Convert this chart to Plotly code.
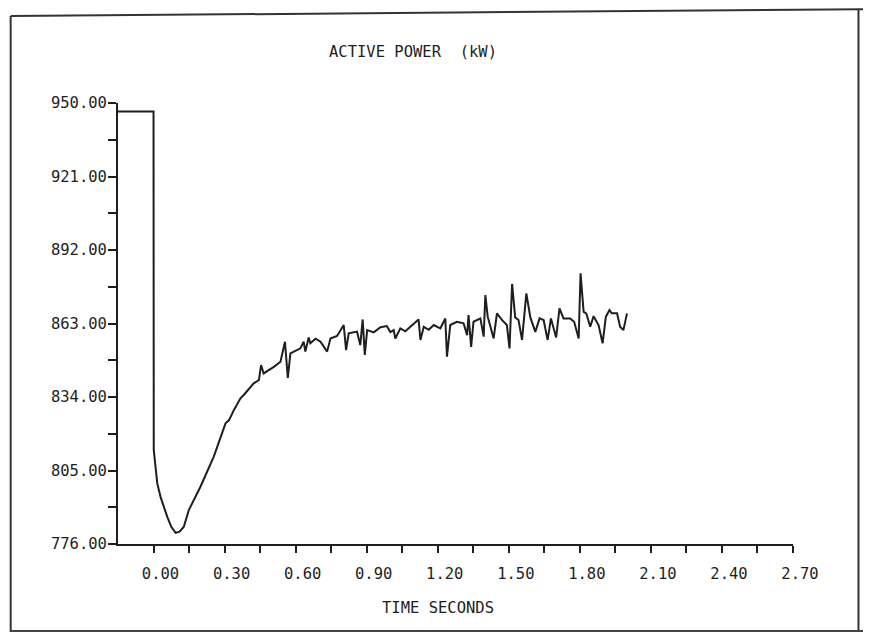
import plotly.graph_objects as go

# ---- data ----
time_s = [-0.15, 0.0, 0.001, 0.008, 0.016, 0.030, 0.044, 0.058, 0.075, 0.093, 0.110, 0.128,
          0.149, 0.172, 0.198, 0.254, 0.304,
          0.319, 0.339, 0.367, 0.381, 0.423, 0.445, 0.454, 0.465, 0.508, 0.536, 0.555, 0.567,
          0.578, 0.620, 0.634, 0.641, 0.655, 0.662, 0.684, 0.705, 0.733, 0.747, 0.775, 0.803,
          0.813, 0.824, 0.859, 0.873, 0.883, 0.892, 0.902, 0.930, 0.958, 0.985, 1.000, 1.014,
          1.021, 1.042, 1.063, 1.084, 1.119, 1.127, 1.141, 1.162, 1.183, 1.211, 1.232, 1.239,
          1.253, 1.281, 1.309, 1.324, 1.330, 1.341, 1.351, 1.380, 1.394, 1.401, 1.411, 1.436,
          1.450, 1.471, 1.492, 1.503, 1.514, 1.527, 1.541, 1.556, 1.574, 1.591, 1.612, 1.630,
          1.647, 1.664, 1.678, 1.700, 1.714, 1.731, 1.759, 1.776, 1.795, 1.803, 1.816, 1.827,
          1.844, 1.858, 1.879, 1.896, 1.910, 1.925, 1.935, 1.957, 1.970, 1.984, 1.999]
power_kw = [946.6, 946.6, 813.0, 805.2, 799.8, 794.5, 790.2, 786.7, 782.8, 780.4, 780.9, 782.8,
            789.4, 793.6, 798.6, 810.4, 823.6,
            824.9, 828.8, 833.5, 834.8, 839.4, 840.7, 846.6, 843.3, 845.9, 847.9, 855.8, 841.5,
            851.2, 853.2, 855.8, 851.9, 857.5, 855.2, 857.0, 855.8, 851.9, 857.1, 858.1, 862.4,
            852.5, 859.1, 859.8, 854.5, 864.6, 850.6, 860.4, 859.5, 861.5, 862.0, 859.6, 860.4,
            857.1, 861.1, 859.9, 861.7, 864.6, 856.5, 861.7, 860.5, 862.4, 861.1, 865.0, 849.9,
            862.4, 863.7, 863.1, 858.4, 866.3, 853.8, 863.7, 865.0, 857.8, 874.2, 865.7, 857.1,
            867.0, 864.4, 862.4, 853.2, 878.6, 865.4, 864.4, 856.5, 874.9, 865.4, 859.7, 865.0,
            864.4, 856.5, 865.0, 857.5, 869.0, 865.0, 865.0, 863.7, 857.1, 882.8, 867.6, 867.0,
            861.7, 865.9, 862.4, 855.2, 865.7, 868.3, 867.0, 867.0, 861.7, 860.4, 867.0]

x_tick_vals = [0.0, 0.15, 0.30, 0.45, 0.60, 0.75, 0.90, 1.05, 1.20, 1.35, 1.50, 1.65,
               1.80, 1.95, 2.10, 2.25, 2.40, 2.55, 2.70]
x_tick_text = ["0.00", "", "0.30", "", "0.60", "", "0.90", "", "1.20", "", "1.50", "",
               "1.80", "", "2.10", "", "2.40", "", "2.70"]
y_tick_vals = [776, 790.5, 805, 819.5, 834, 848.5, 863, 877.5, 892, 906.5, 921, 935.5, 950]
y_tick_text = ["776.00", "", "805.00", "", "834.00", "", "863.00", "", "892.00", "",
               "921.00", "", "950.00"]

title_text = "ACTIVE POWER\u00a0\u00a0(kW)"
x_title = "TIME SECONDS"

FONT = "DejaVu Sans Mono"
INK = "#1e1e1e"

fig = go.Figure()
fig.add_trace(go.Scatter(x=time_s, y=power_kw, mode="lines",
                         line=dict(color=INK, width=2), hoverinfo="skip",
                         showlegend=False))

axis_common = dict(showgrid=False, zeroline=False, showline=True, linecolor=INK,
                   linewidth=2, ticks="outside", tickcolor=INK, tickwidth=2,
                   mirror=False)

fig.update_xaxes(range=[-0.15, 2.70], tickmode="array", tickvals=x_tick_vals,
                 ticktext=x_tick_text, ticklen=7, ticklabelshift=7,
                 ticklabelstandoff=7, tickfont=dict(family=FONT, size=15.5, color=INK),
                 **axis_common)
fig.update_yaxes(range=[776, 950], tickmode="array", tickvals=y_tick_vals,
                 ticktext=y_tick_text, ticklen=8, ticklabelstandoff=-2,
                 tickfont=dict(family=FONT, size=15.5, color=INK), **axis_common)

fig.add_annotation(text=title_text, xref="paper", yref="paper", x=0.437, y=1.116,
                   xanchor="center", yanchor="middle", showarrow=False,
                   font=dict(family=FONT, size=15.5, color=INK))
fig.add_annotation(text=x_title, xref="paper", yref="paper", x=0.474, y=-0.145,
                   xanchor="center", yanchor="middle", showarrow=False,
                   font=dict(family=FONT, size=15.5, color=INK))

# outer frame of the scanned page
fig.add_shape(type="line", xref="paper", yref="paper", x0=-0.159, y0=1.197, x1=1.118,
              y1=1.213, line=dict(color="#333", width=2))
fig.add_shape(type="line", xref="paper", yref="paper", x0=-0.159, y0=1.197, x1=-0.159,
              y1=-0.21, line=dict(color="#333", width=2))
fig.add_shape(type="line", xref="paper", yref="paper", x0=1.097, y0=1.213, x1=1.097,
              y1=-0.21, line=dict(color="#333", width=2))
fig.add_shape(type="line", xref="paper", yref="paper", x0=-0.159, y0=-0.197, x1=1.12,
              y1=-0.197, line=dict(color="#444", width=2))

fig.update_layout(width=871, height=632, plot_bgcolor="white", paper_bgcolor="white",
                  margin=dict(l=109.5, r=86, t=95, b=96), showlegend=False)

fig.write_html("out.html")
